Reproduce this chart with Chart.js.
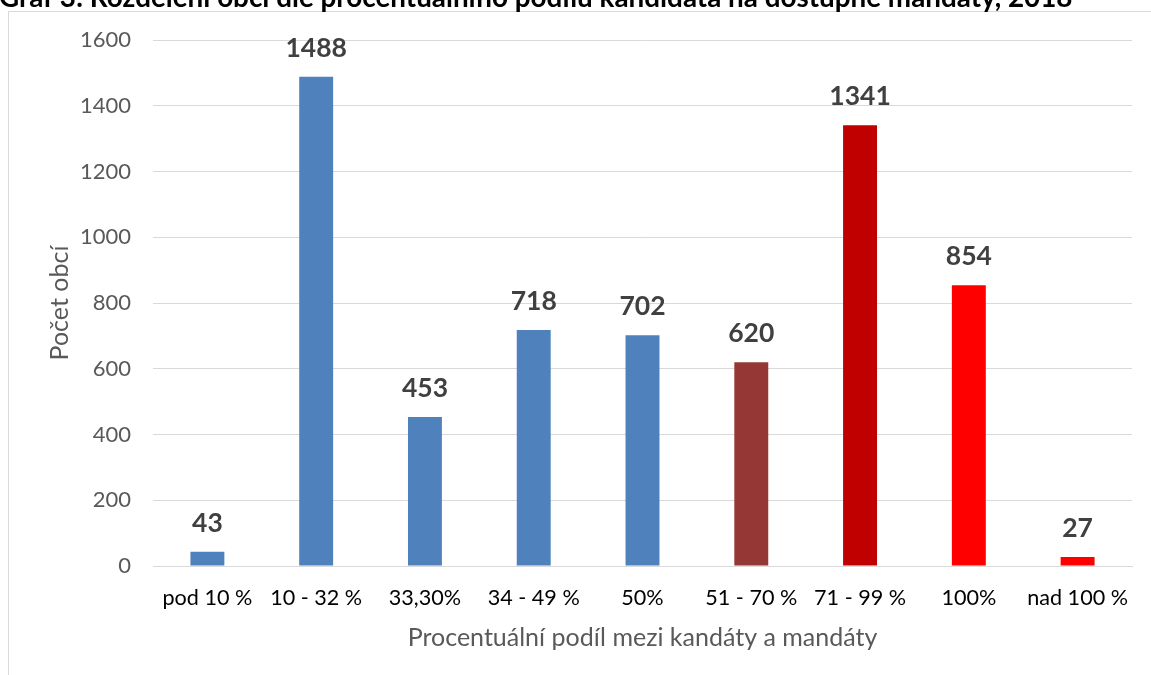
<!DOCTYPE html>
<html>
<head>
<meta charset="utf-8">
<script src="https://cdn.jsdelivr.net/npm/chart.js@4"></script>
<style>
  html, body { margin: 0; padding: 0; background: #fff; overflow: hidden; }
  canvas { position: absolute; left: 0; top: 0; }
</style>
</head>
<body>
<canvas id="grafObce" width="1151" height="675"></canvas>
<script>
// Data z grafu
const kategorie = ['pod 10 %', '10 - 32 %', '33,30%', '34 - 49 %', '50%', '51 - 70 %', '71 - 99 %', '100%', 'nad 100 %'];
const pocetObci = [43, 1488, 453, 718, 702, 620, 1341, 854, 27];
const barvy = ['#4F81BD', '#4F81BD', '#4F81BD', '#4F81BD', '#4F81BD', '#953735', '#C00000', '#FF0000', '#FF0000'];
const osaY = [0, 200, 400, 600, 800, 1000, 1200, 1400, 1600];

const nazevGrafu = 'Graf 3: Rozdělení obcí dle procentuálního podílu kandidáta na dostupné mandáty, 2018';
const pismo = 'Lato, "Open Sans", sans-serif';

// nadpis (oříznutý nahoře) a rámeček
const ramecekPlugin = {
    id: 'ramecek',
    beforeDraw(chart) {
        const c = chart.ctx;
        c.save();
        c.fillStyle = '#fff';
        c.fillRect(0, 0, chart.width, chart.height);
        c.strokeStyle = '#D9D9D9';
        c.lineWidth = 1;
        c.beginPath();
        c.moveTo(8.5, chart.height);
        c.lineTo(8.5, 11.5);
        c.lineTo(chart.width, 11.5);
        c.stroke();
        c.fillStyle = '#000';
        c.font = 'bold 24px ' + pismo;
        const w = c.measureText(nazevGrafu).width;
        const size = 24 * 1074 / w;
        c.font = 'bold ' + size.toFixed(2) + 'px ' + pismo;
        c.textBaseline = 'alphabetic';
        c.textAlign = 'left';
        c.fillText(nazevGrafu, -1, 7);
        c.restore();
    }
};

// hodnoty nad sloupci
const hodnotyPlugin = {
    id: 'hodnoty',
    afterDatasetsDraw(chart) {
        const c = chart.ctx;
        c.save();
        c.font = 'bold 26.5px ' + pismo;
        c.fillStyle = '#404040';
        c.textAlign = 'center';
        c.textBaseline = 'alphabetic';
        chart.getDatasetMeta(0).data.forEach((bar, i) => {
            c.fillText(pocetObci[i], bar.x, bar.y - 20);
        });
        c.restore();
    }
};

const ctx = document.getElementById('grafObce').getContext('2d');
new Chart(ctx, {
    type: 'bar',
    data: {
        labels: kategorie,
        datasets: [{
            label: 'Počet obcí',
            data: pocetObci,
            backgroundColor: barvy,
            borderWidth: 0,
            barPercentage: 0.312,
            categoryPercentage: 1
        }]
    },
    options: {
        responsive: false,
        animation: false,
        devicePixelRatio: 1,
        layout: { padding: { top: 40, right: 19, bottom: 0, left: 0 } },
        plugins: {
            legend: { display: false },
            tooltip: { enabled: false },
            title: { display: false }
        },
        scales: {
            x: {
                grid: { display: false, drawTicks: false },
                border: { display: true, color: '#D9D9D9', width: 1 },
                ticks: { color: '#000', font: { family: pismo, size: 21.6 }, padding: 19, maxRotation: 0, autoSkip: false },
                title: {
                    display: true,
                    text: 'Procentuální podíl mezi kandáty a mandáty',
                    color: '#595959',
                    font: { family: pismo, size: 25 },
                    padding: { top: 0, bottom: 22 }
                },
                afterFit(scale) { scale.height = 109; }
            },
            y: {
                min: 0,
                max: 1600,
                afterBuildTicks(scale) { scale.ticks = osaY.map(v => ({ value: v })); },
                grid: { color: '#D9D9D9', lineWidth: 1, drawTicks: false },
                border: { display: false },
                ticks: {
                    color: '#595959',
                    font: { family: pismo, size: 22 },
                    padding: 22,
                    callback: v => String(v)
                },
                title: {
                    display: true,
                    text: 'Počet obcí',
                    color: '#595959',
                    font: { family: pismo, size: 25 },
                    padding: { top: 45, bottom: 0 }
                },
                afterFit(scale) { scale.width = 153; }
            }
        }
    },
    plugins: [ramecekPlugin, hodnotyPlugin]
});
</script>
</body>
</html>
